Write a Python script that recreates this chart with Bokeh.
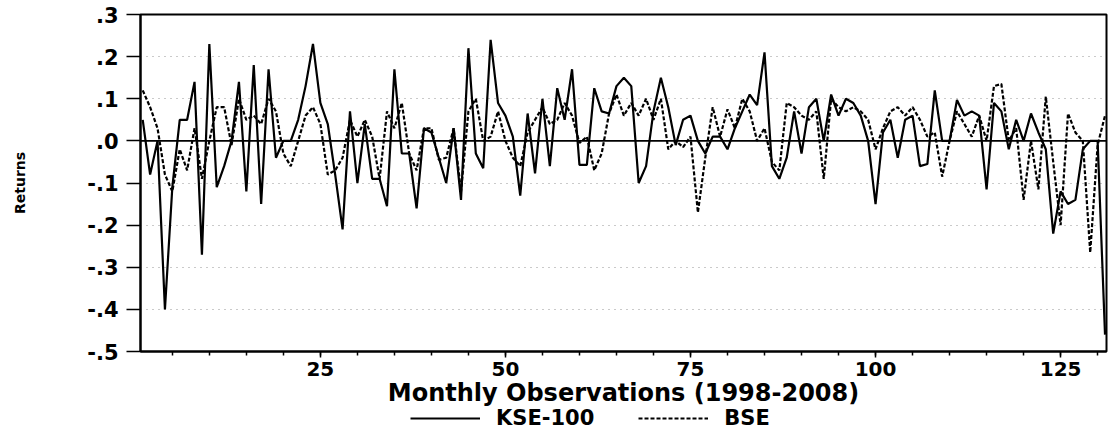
from bokeh.plotting import figure
from bokeh.layouts import column
from bokeh.models import (FixedTicker, Span, Legend, LegendItem, Range1d, ColumnDataSource)
from bokeh.embed import file_html
from bokeh.resources import INLINE

# ---- data ----
kse = [0.05, -0.08, 0.00, -0.40, -0.11, 0.05, 0.05, 0.14, -0.27, 0.23,
       -0.11, -0.06, 0.00, 0.14, -0.12, 0.18, -0.15, 0.17, -0.04, 0.00,
       0.00, 0.05, 0.13, 0.23, 0.09, 0.04, -0.08, -0.21, 0.07, -0.10,
       0.04, -0.09, -0.09, -0.155, 0.17, -0.03, -0.03, -0.16, 0.03, 0.02,
       -0.04, -0.10, 0.03, -0.14, 0.22, -0.03, -0.065, 0.24, 0.09, 0.06,
       0.01, -0.13, 0.065, -0.077, 0.10, -0.06, 0.125, 0.05, 0.17, -0.057,
       -0.057, 0.125, 0.07, 0.065, 0.13, 0.15, 0.13, -0.10, -0.06, 0.07,
       0.15, 0.08, -0.01, 0.05, 0.06, 0.00, -0.03, 0.01, 0.01, -0.02,
       0.03, 0.07, 0.11, 0.085, 0.21, -0.06, -0.09, -0.04, 0.07, -0.03,
       0.08, 0.10, 0.00, 0.11, 0.06, 0.10, 0.09, 0.06, 0.00, -0.15,
       0.02, 0.05, -0.04, 0.05, 0.06, -0.06, -0.055, 0.12, 0.00, 0.00,
       0.097, 0.06, 0.07, 0.06, -0.115, 0.09, 0.07, -0.02, 0.05, 0.00,
       0.065, 0.02, -0.02, -0.22, -0.12, -0.15, -0.14, -0.02, 0.00, 0.00,
       -0.46]
bse = [0.12, 0.08, 0.03, -0.08, -0.12, -0.02, -0.07, 0.03, -0.09, 0.00,
       0.08, 0.08, -0.01, 0.10, 0.05, 0.06, 0.04, 0.10, 0.07, -0.03,
       -0.06, 0.00, 0.06, 0.08, 0.04, -0.08, -0.07, -0.04, 0.05, 0.01,
       0.05, 0.01, -0.09, 0.07, 0.03, 0.09, -0.03, -0.07, 0.03, 0.03,
       -0.045, -0.04, 0.03, -0.12, 0.07, 0.10, 0.00, 0.01, 0.07, 0.00,
       -0.04, -0.06, 0.02, 0.05, 0.08, 0.04, 0.05, 0.09, 0.06, -0.005,
       0.01, -0.07, -0.03, 0.065, 0.11, 0.06, 0.09, 0.06, 0.10, 0.05,
       0.10, -0.02, 0.00, -0.015, 0.01, -0.17, -0.04, 0.08, 0.01, 0.075,
       0.03, 0.10, 0.07, 0.00, 0.03, -0.05, -0.07, 0.09, 0.08, 0.06,
       0.05, 0.07, -0.09, 0.10, 0.08, 0.07, 0.08, 0.07, 0.05, -0.02,
       0.03, 0.07, 0.08, 0.06, 0.08, 0.05, 0.01, 0.02, -0.085, 0.00,
       0.07, 0.04, 0.01, 0.06, 0.00, 0.13, 0.135, 0.00, 0.03, -0.14,
       0.00, -0.115, 0.105, -0.05, -0.20, 0.065, 0.02, 0.00, -0.265, -0.01,
       0.06]
months = list(range(1, len(kse) + 1))

series_names = ["KSE-100", "BSE"]
x_major = [25, 50, 75, 100, 125]
x_minor = list(range(5, 131, 5))
y_ticks = [-0.5, -0.4, -0.3, -0.2, -0.1, 0.0, 0.1, 0.2, 0.3]
y_labels = ["-.5", "-.4", "-.3", "-.2", "-.1", ".0", ".1", ".2", ".3"]

FONT = "DejaVu Sans"
SOLID = dict(line_color="black", line_width=2.2)
DASHED = dict(line_color="black", line_width=2.2, line_dash="4 2")

p = figure(width=1110, height=410, frame_width=966, frame_height=337,
           output_backend="svg", toolbar_location=None,
           x_range=Range1d(0.7, 131.2), y_range=Range1d(-0.5, 0.3),
           min_border_left=140, min_border_right=4, min_border_top=14,
           min_border_bottom=0,
           background_fill_color="white", border_fill_color="white")

p.outline_line_color = "black"
p.outline_line_width = 2

src = ColumnDataSource(dict(m=months, kse=kse, bse=bse))
p.line("m", "kse", source=src, **SOLID)
p.line("m", "bse", source=src, **DASHED)

p.add_layout(Span(location=0, dimension="width", line_color="black", line_width=1.6))

# grid
p.xgrid.grid_line_color = None
p.ygrid.ticker = FixedTicker(ticks=y_ticks)
p.ygrid.grid_line_color = "#666666"
p.ygrid.grid_line_dash = "1 5"
p.ygrid.grid_line_width = 1
p.ygrid.grid_line_alpha = 0.7

# x axis
xa = p.xaxis[0]
xa.ticker = FixedTicker(ticks=x_major, minor_ticks=x_minor)
xa.axis_line_width = 2
xa.major_tick_out = 6
xa.major_tick_in = 0
xa.minor_tick_out = 4
xa.minor_tick_in = 0
xa.major_tick_line_width = 1.5
xa.minor_tick_line_width = 1.5
xa.major_label_standoff = 4
xa.major_label_text_font = FONT
xa.major_label_text_font_style = "bold"
xa.major_label_text_font_size = "20px"
xa.major_label_text_color = "black"
xa.axis_label = "Monthly Observations (1998-2008)"
xa.axis_label_text_font = FONT
xa.axis_label_text_font_style = "bold"
xa.axis_label_text_font_size = "24px"
xa.axis_label_text_color = "black"
xa.axis_label_standoff = 0

# y axis
ya = p.yaxis[0]
ya.ticker = FixedTicker(ticks=y_ticks)
ya.major_label_overrides = {t: l for t, l in zip(y_ticks, y_labels)}
ya.axis_line_width = 2
ya.major_tick_out = 14
ya.major_tick_in = 0
ya.major_tick_line_width = 1.5
ya.minor_tick_line_color = None
ya.major_label_standoff = 8
ya.major_label_text_font = FONT
ya.major_label_text_font_style = "bold"
ya.major_label_text_font_size = "21px"
ya.major_label_text_color = "black"
ya.axis_label = "Returns"
ya.axis_label_text_font = FONT
ya.axis_label_text_font_style = "bold"
ya.axis_label_text_font_size = "14px"
ya.axis_label_text_color = "black"
ya.axis_label_standoff = 56

# legend strip below the chart: same series, ranges set so no data shows there
lg = figure(width=1110, height=24, output_backend="svg", toolbar_location=None,
            x_range=Range1d(-3, -2), y_range=Range1d(-3, -2),
            x_axis_location=None, y_axis_location=None,
            min_border=0, outline_line_color=None,
            background_fill_color="white", border_fill_color="white")
lg.xgrid.grid_line_color = None
lg.ygrid.grid_line_color = None
s1 = lg.line("m", "kse", source=src, **SOLID)
s2 = lg.line("m", "bse", source=src, **DASHED)
legend = Legend(items=[LegendItem(label=series_names[0], renderers=[s1]),
                       LegendItem(label=series_names[1], renderers=[s2])],
                orientation="horizontal", location=(270, 3),
                border_line_color=None, background_fill_alpha=0,
                glyph_width=70, glyph_height=18, label_height=18,
                label_standoff=16, spacing=44, padding=0, margin=0,
                label_text_font=FONT, label_text_font_style="bold",
                label_text_font_size="21px", label_text_color="black")
lg.add_layout(legend, "center")

layout = column(p, lg, spacing=0)
open("out.html", "w").write(file_html(layout, INLINE))
